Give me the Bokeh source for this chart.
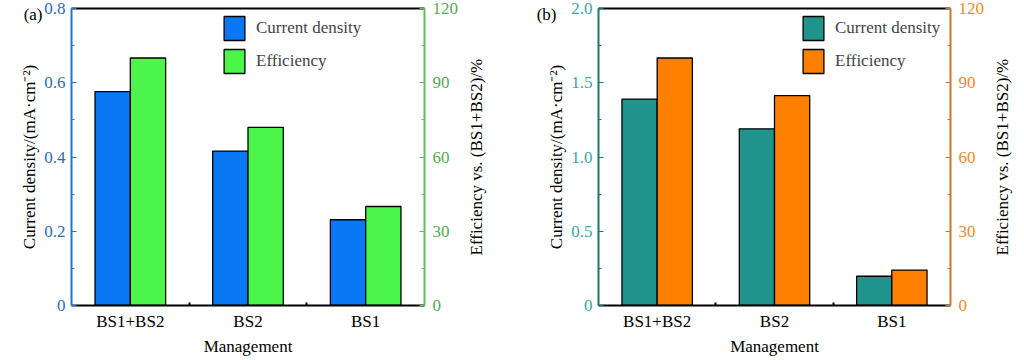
import math
from bokeh.plotting import figure
from bokeh.layouts import row
from bokeh.models import (Range1d, LinearAxis, FixedTicker, Legend, LegendItem,
                          ColumnDataSource)
from bokeh.embed import file_html
from bokeh.resources import INLINE
import numpy as np

# ---------------- data ----------------
categories = ["BS1+BS2", "BS2", "BS1"]
a_current = [0.576, 0.416, 0.231]
a_efficiency = [100.0, 72.0, 40.0]
b_current = [1.39, 1.19, 0.197]
b_efficiency = [100.0, 84.8, 14.3]

a_left_ticks = [0, 0.2, 0.4, 0.6, 0.8]
a_left_labels = ["0", "0.2", "0.4", "0.6", "0.8"]
b_left_ticks = [0, 0.5, 1.0, 1.5, 2.0]
b_left_labels = ["0", "0.5", "1.0", "1.5", "2.0"]
right_ticks = [0, 30, 60, 90, 120]
right_labels = ["0", "30", "60", "90", "120"]
x_title = "Management"
y_title = "Current density/(mA·cm⁻²)"
y2_title = "Efficiency vs. (BS1+BS2)/%"

FONT = "Liberation Serif"
FS = "17px"
H = 358
TOP = 8
BOTTOM = 53
FRAME_H = H - TOP - BOTTOM
EFF_MAX = 120


def style_text(ax, color):
    ax.major_label_text_font = FONT
    ax.major_label_text_font_size = FS
    ax.major_label_text_color = color
    ax.axis_label_text_font = FONT
    ax.axis_label_text_font_size = FS
    ax.axis_label_text_font_style = "normal"
    ax.axis_label_text_color = "black"


def make_panel(tag, cur, eff, ymax, lticks, llabels, c_cur, c_eff,
               laxis_col, llab_col, raxis_col, rlab_col,
               width, bl, br, legend_x, tag_standoff):
    n = len(categories)
    pos = np.arange(n) + 0.5
    p = figure(width=width, height=H, output_backend="svg", toolbar_location=None,
               x_range=Range1d(0, n), y_range=Range1d(0, ymax),
               min_border_left=bl, min_border_right=br, min_border_top=TOP,
               min_border_bottom=BOTTOM)
    p.outline_line_color = None
    p.xgrid.visible = False
    p.ygrid.visible = False
    p.background_fill_color = "white"
    p.border_fill_color = "white"
    p.extra_y_ranges = {"eff": Range1d(0, EFF_MAX)}

    src = ColumnDataSource(dict(x1=pos - 0.15, x2=pos + 0.15, cur=cur, eff=eff))
    r1 = p.vbar(x="x1", top="cur", width=0.3, source=src, fill_color=c_cur,
                line_color="black", line_width=1.3)
    r2 = p.vbar(x="x2", top="eff", width=0.3, source=src, fill_color=c_eff,
                line_color="black", line_width=1.3, y_range_name="eff")

    # x axis
    xa = p.xaxis[0]
    xa.ticker = FixedTicker(ticks=list(pos), minor_ticks=list(np.arange(1, n)))
    xa.major_label_overrides = {float(v): c for v, c in zip(pos, categories)}
    xa.major_tick_in = 0
    xa.major_tick_out = 0
    xa.minor_tick_in = 3
    xa.minor_tick_out = 0
    xa.minor_tick_line_color = "black"
    xa.minor_tick_line_width = 2
    xa.axis_line_color = "black"
    xa.axis_line_width = 2
    style_text(xa, "black")
    xa.major_label_standoff = 6
    xa.axis_label = x_title
    xa.axis_label_standoff = 3

    # left axis
    ya = p.yaxis[0]
    mids = [(lticks[i] + lticks[i + 1]) / 2 for i in range(len(lticks) - 1)]
    ya.ticker = FixedTicker(ticks=lticks, minor_ticks=mids)
    ya.major_label_overrides = {float(v): s for v, s in zip(lticks, llabels)}
    ya.axis_line_color = laxis_col
    ya.axis_line_width = 2
    ya.major_tick_line_color = laxis_col
    ya.minor_tick_line_color = laxis_col
    ya.major_tick_in = 5
    ya.major_tick_out = 0
    ya.minor_tick_in = 3
    ya.minor_tick_out = 0
    style_text(ya, llab_col)
    ya.major_label_standoff = 6
    ya.axis_label = y_title
    ya.axis_label_standoff = 2

    # panel tag "(a)"/"(b)" as an outer, line-less left axis label
    tag_val = ymax * (1 - 6.0 / FRAME_H)
    tg = LinearAxis(ticker=FixedTicker(ticks=[tag_val]),
                    major_label_overrides={tag_val: tag},
                    axis_line_color=None, major_tick_line_color=None,
                    minor_tick_line_color=None, major_tick_in=0, major_tick_out=0,
                    major_label_standoff=tag_standoff)
    style_text(tg, "black")
    p.add_layout(tg, "left")

    # right axis
    rmids = [(right_ticks[i] + right_ticks[i + 1]) / 2 for i in range(len(right_ticks) - 1)]
    ra = LinearAxis(y_range_name="eff",
                    ticker=FixedTicker(ticks=right_ticks, minor_ticks=rmids))
    ra.major_label_overrides = {float(v): s for v, s in zip(right_ticks, right_labels)}
    ra.axis_line_color = raxis_col
    ra.axis_line_width = 2
    ra.major_tick_line_color = raxis_col
    ra.minor_tick_line_color = raxis_col
    ra.major_tick_in = 5
    ra.major_tick_out = 0
    ra.minor_tick_in = 3
    ra.minor_tick_out = 0
    style_text(ra, rlab_col)
    ra.major_label_standoff = 8
    p.add_layout(ra, "right")

    # right title reading bottom-to-top: an outer right axis whose single label
    # starts at the lower end of the title span
    text_len = 197.0
    start_val = EFF_MAX * (FRAME_H / 2 - text_len / 2) / FRAME_H
    rt = LinearAxis(y_range_name="eff", ticker=FixedTicker(ticks=[start_val]),
                    major_label_overrides={start_val: y2_title},
                    axis_line_color=None, major_tick_line_color=None,
                    minor_tick_line_color=None, major_tick_in=0, major_tick_out=0,
                    major_label_standoff=15, major_label_orientation=math.pi / 2)
    style_text(rt, "black")
    p.add_layout(rt, "right")

    # top border
    ta = LinearAxis(ticker=FixedTicker(ticks=[]), axis_line_color="black",
                    axis_line_width=2, major_tick_line_color=None,
                    minor_tick_line_color=None)
    p.add_layout(ta, "above")

    legend = Legend(items=[LegendItem(label="Current density", renderers=[r1]),
                           LegendItem(label="Efficiency", renderers=[r2])],
                    location=(legend_x, FRAME_H - 5 - 63))
    legend.border_line_color = None
    legend.background_fill_alpha = 0
    legend.padding = 0
    legend.margin = 0
    legend.spacing = 3
    legend.glyph_width = 26
    legend.glyph_height = 30
    legend.label_standoff = 9
    legend.label_text_font = FONT
    legend.label_text_font_size = FS
    legend.label_height = 30
    p.add_layout(legend, "center")
    return p


pa = make_panel("(a)", a_current, a_efficiency, 0.8, a_left_ticks, a_left_labels,
                "#0a78f5", "#4cf54c", "#1f77d0", "#2f6db5", "#5cbf5c", "#55aa55",
                512, 71, 88, 150, -25)
pb = make_panel("(b)", b_current, b_efficiency, 2.0, b_left_ticks, b_left_labels,
                "#20948c", "#ff8000", "#1c756e", "#3aa8a2", "#c8782c", "#f08a24",
                512, 86, 73, 202, -12)

layout = row(pa, pb)
open("out.html", "w").write(file_html(layout, INLINE))
